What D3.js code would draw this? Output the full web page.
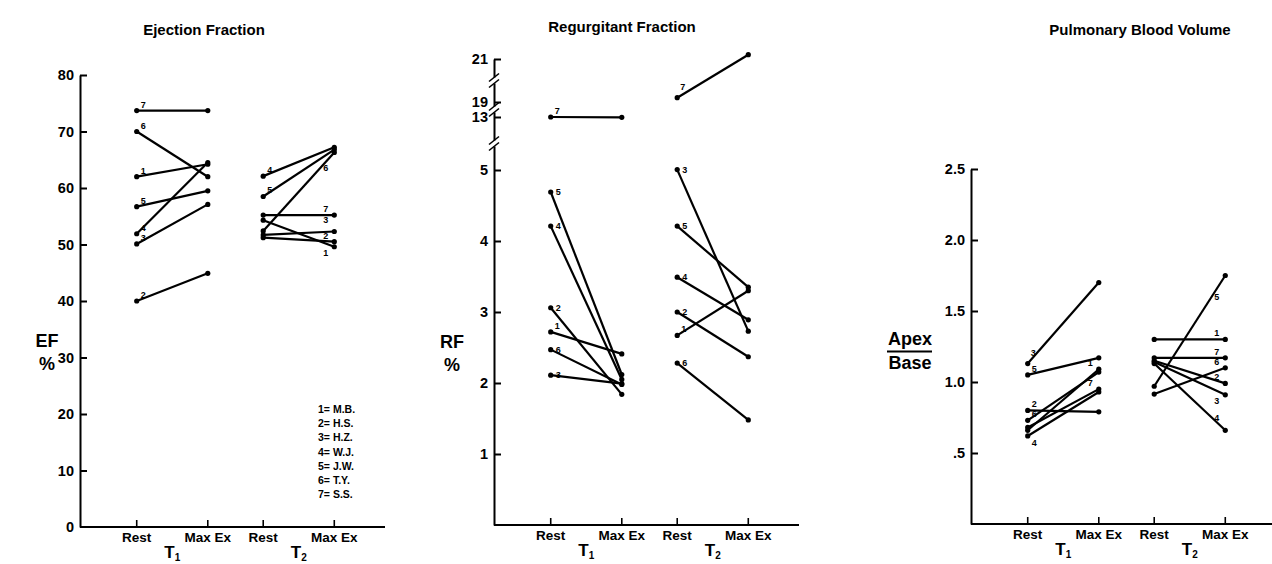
<!DOCTYPE html>
<html>
<head>
<meta charset="utf-8">
<script src="https://cdn.jsdelivr.net/npm/d3@7"></script>
<style>
  body { margin: 0; background: #fff; }
  svg { display: block; font-family: "Liberation Sans", Arial, sans-serif; font-weight: bold; }
</style>
</head>
<body>
<svg id="chart" width="1272" height="564"></svg>
<script>
// subjects 1..7 and the legend names
var subjects = ["1", "2", "3", "4", "5", "6", "7"];
var legendNames = ["M.B.", "H.S.", "H.Z.", "W.J.", "J.W.", "T.Y.", "S.S."];
var groups = ["T1", "T2"];
var conditions = ["Rest", "Max Ex"];

// Ejection fraction (%), one value per subject
var efT1Rest = [62.0, 40.0, 50.1, 51.9, 56.7, 70.0, 73.7];
var efT1Max  = [64.2, 44.9, 57.1, 64.5, 59.5, 62.0, 73.7];
var efT2Rest = [54.3, 51.2, 51.7, 62.1, 58.5, 52.4, 55.2];
var efT2Max  = [49.6, 50.5, 52.3, 67.2, 66.8, 66.3, 55.2];
var efTicks  = [0, 10, 20, 30, 40, 50, 60, 70, 80];

// Regurgitant fraction (%)
var rfT1Rest = [2.72, 3.06, 2.11, 4.21, 4.69, 2.47, 13.0];
var rfT1Max  = [2.41, 1.84, 1.99, 2.05, 2.12, 1.98, 12.95];
var rfT2Rest = [2.67, 3.00, 5.06, 3.49, 4.21, 2.28, 19.2];
var rfT2Max  = [3.30, 2.37, 2.73, 2.89, 3.35, 1.48, 21.2];
var rfTicks  = [1, 2, 3, 4, 5, 13, 19, 21];
var rfBreaks = [9, 16, 20];

// Pulmonary blood volume (apex / base)
var pbvT1Rest = [0.66, 0.80, 1.13, 0.62, 1.05, 0.73, 0.68];
var pbvT1Max  = [1.09, 0.79, 1.70, 0.93, 1.17, 1.07, 0.95];
var pbvT2Rest = [1.30, 1.15, 1.14, 1.13, 0.97, 0.915, 1.17];
var pbvT2Max  = [1.30, 0.99, 0.91, 0.66, 1.75, 1.10, 1.17];
var pbvTicks  = [0.5, 1.0, 1.5, 2.0, 2.5];

// where the little subject numbers sit, relative to a point
var labelKinds = {
  r:   { end: 0, dx: 4,  dy: -3, anchor: "start" },
  rr:  { end: 0, dx: 5,  dy: 3,  anchor: "start" },
  ru:  { end: 0, dx: 3,  dy: -8, anchor: "start" },
  rb:  { end: 0, dx: 4,  dy: 10, anchor: "start" },
  m:   { end: 1, dx: -6, dy: -3, anchor: "end" },
  ma:  { end: 1, dx: -6, dy: -9, anchor: "end" },
  mb:  { end: 1, dx: -6, dy: 9,  anchor: "end" },
  mbb: { end: 1, dx: -6, dy: 19, anchor: "end" },
  ml:  { end: 1, dx: -6, dy: 24, anchor: "end" }
};

var panels = [
  {
    title: "Ejection Fraction", titleX: 204, titleY: 35,
    axisX: 80, bottom: 527,
    y: d3.scaleLinear().domain([0, 80]).range([527, 75]),
    ticks: efTicks, fmt: function(d) { return d; },
    series: { T1: [efT1Rest, efT1Max], T2: [efT2Rest, efT2Max] },
    labels: { T1: ["r", "r", "r", "r", "r", "r", "r"],
              T2: ["mb", "m", "ma", "r", "r", "mbb", "m"] },
    yLabel: ["EF", "%"], yLabelX: 47, yLabelY: 347
  },
  {
    title: "Regurgitant Fraction", titleX: 622, titleY: 32,
    axisX: 494, bottom: 525,
    y: d3.scaleLinear().domain([0, 5, 13, 19, 21]).range([525, 170, 117, 102, 59]),
    ticks: rfTicks, fmt: function(d) { return d; }, breaks: rfBreaks,
    series: { T1: [rfT1Rest, rfT1Max], T2: [rfT2Rest, rfT2Max] },
    labels: { T1: ["r", "rr", "rr", "rr", "rr", "rr", "r"],
              T2: ["r", "rr", "rr", "rr", "rr", "rr", "ru"] },
    yLabel: ["RF", "%"], yLabelX: 452, yLabelY: 348
  },
  {
    title: "Pulmonary Blood Volume", titleX: 1140, titleY: 35,
    axisX: 971, bottom: 524,
    y: d3.scaleLinear().domain([0, 2.5]).range([524, 169]),
    ticks: pbvTicks, fmt: function(d) { return d === 0.5 ? ".5" : d3.format(".1f")(d); },
    series: { T1: [pbvT1Rest, pbvT1Max], T2: [pbvT2Rest, pbvT2Max] },
    labels: { T1: ["m", "r", "ru", "rb", "r", "r", "m"],
              T2: ["m", "m", "mb", "ma", "ml", "m", "m"] },
    yLabel: ["Apex", "Base"], yLabelX: 910, yLabelY: 345, ratio: true
  }
];

var svg = d3.select("svg#chart");

panels.forEach(function(p) {
  var g = svg.append("g");
  var y = p.y;

  var outer = d3.scaleBand().domain(groups).range([p.axisX + 29, p.axisX + 282]);
  var inner = d3.scalePoint().domain(conditions).range([0, outer.bandwidth()]).padding(0.39);
  function x(grp, c) { return outer(grp) + inner(c); }

  // title
  g.append("text")
    .attr("x", p.titleX).attr("y", p.titleY)
    .attr("text-anchor", "middle")
    .style("font-size", "15px")
    .text(p.title);

  // y axis, ticks point inward
  var yAxis = d3.axisLeft(y)
    .tickValues(p.ticks)
    .tickFormat(p.fmt)
    .tickSize(-7)
    .tickSizeOuter(0)
    .tickPadding(6);
  var ya = g.append("g")
    .attr("transform", "translate(" + p.axisX + ",0)")
    .call(yAxis);
  ya.attr("font-family", null).attr("font-size", null);
  ya.selectAll("text").style("font-size", "14.5px").attr("fill", "#000");
  ya.selectAll("line, path").attr("stroke", "#000").attr("stroke-width", 2);
  ya.selectAll(".tick").filter(function(d) { return d === 0; }).select("line").remove();

  // axis breaks
  if (p.breaks) {
    p.breaks.forEach(function(b) {
      var yb = y(b);
      g.append("rect")
        .attr("x", p.axisX - 3).attr("y", yb - 3)
        .attr("width", 6).attr("height", 6)
        .attr("fill", "#fff");
      [-3, 3].forEach(function(o) {
        g.append("line")
          .attr("x1", p.axisX - 5).attr("y1", yb + o + 4)
          .attr("x2", p.axisX + 5).attr("y2", yb + o - 4)
          .attr("stroke", "#000").attr("stroke-width", 1.6);
      });
    });
  }

  // baseline
  g.append("line")
    .attr("x1", p.axisX).attr("x2", p.axisX + 305)
    .attr("y1", p.bottom).attr("y2", p.bottom)
    .attr("stroke", "#000").attr("stroke-width", 2);

  // x ticks and condition labels
  var combos = [];
  groups.forEach(function(grp) {
    conditions.forEach(function(c) { combos.push({ g: grp, c: c }); });
  });
  g.selectAll("line.xtick").data(combos).enter()
    .append("line").attr("class", "xtick")
    .attr("x1", function(d) { return x(d.g, d.c); })
    .attr("x2", function(d) { return x(d.g, d.c); })
    .attr("y1", p.bottom).attr("y2", p.bottom - 7)
    .attr("stroke", "#000").attr("stroke-width", 1.6);
  g.selectAll("text.xlab").data(combos).enter()
    .append("text").attr("class", "xlab")
    .attr("x", function(d) { return x(d.g, d.c); })
    .attr("y", p.bottom + 15)
    .attr("text-anchor", "middle")
    .style("font-size", "13.5px")
    .text(function(d) { return d.c; });

  // T1 / T2 labels
  var gl = g.selectAll("text.glab").data(groups).enter()
    .append("text").attr("class", "glab")
    .attr("x", function(d) { return outer(d) + outer.bandwidth() / 2; })
    .attr("y", p.bottom + 31)
    .attr("text-anchor", "middle")
    .style("font-size", "17px");
  gl.append("tspan").text("T");
  gl.append("tspan").attr("dy", 3).style("font-size", "10px")
    .text(function(d) { return d.slice(1); });

  // y axis label
  if (p.ratio) {
    g.append("text").attr("x", p.yLabelX).attr("y", p.yLabelY)
      .attr("text-anchor", "middle").style("font-size", "18px").text(p.yLabel[0]);
    g.append("line")
      .attr("x1", p.yLabelX - 23).attr("x2", p.yLabelX + 22)
      .attr("y1", p.yLabelY + 6.5).attr("y2", p.yLabelY + 6.5)
      .attr("stroke", "#000").attr("stroke-width", 2);
    g.append("text").attr("x", p.yLabelX).attr("y", p.yLabelY + 24)
      .attr("text-anchor", "middle").style("font-size", "18px").text(p.yLabel[1]);
  } else {
    g.selectAll("text.ylab").data(p.yLabel).enter()
      .append("text").attr("class", "ylab")
      .attr("x", p.yLabelX)
      .attr("y", function(d, i) { return p.yLabelY + i * 23; })
      .attr("text-anchor", "middle")
      .style("font-size", "18px")
      .text(function(d) { return d; });
  }

  // subject lines, points and numbers
  groups.forEach(function(grp) {
    var rest = p.series[grp][0], max = p.series[grp][1];
    var rows = subjects.map(function(s, i) {
      return { s: s, v: [rest[i], max[i]], kind: labelKinds[p.labels[grp][i]] };
    });
    var sg = g.append("g");
    sg.selectAll("line.subj").data(rows).enter()
      .append("line").attr("class", "subj")
      .attr("x1", x(grp, conditions[0])).attr("x2", x(grp, conditions[1]))
      .attr("y1", function(d) { return y(d.v[0]); })
      .attr("y2", function(d) { return y(d.v[1]); })
      .attr("stroke", "#000").attr("stroke-width", 2.2);
    rows.forEach(function(d) {
      conditions.forEach(function(c, j) {
        sg.append("circle")
          .attr("cx", x(grp, c)).attr("cy", y(d.v[j]))
          .attr("r", 2.6).attr("fill", "#000");
      });
    });
    sg.selectAll("text.num").data(rows).enter()
      .append("text").attr("class", "num")
      .attr("x", function(d) { return x(grp, conditions[d.kind.end]) + d.kind.dx; })
      .attr("y", function(d) { return y(d.v[d.kind.end]) + d.kind.dy; })
      .attr("text-anchor", function(d) { return d.kind.anchor; })
      .style("font-size", "9px")
      .text(function(d) { return d.s; });
  });
});

// legend in the first panel
svg.append("g").selectAll("text").data(subjects).enter()
  .append("text")
  .attr("x", 318)
  .attr("y", function(d, i) { return 413 + i * 14.2; })
  .style("font-size", "10.5px")
  .text(function(d, i) { return d + "= " + legendNames[i]; });
</script>
</body>
</html>
